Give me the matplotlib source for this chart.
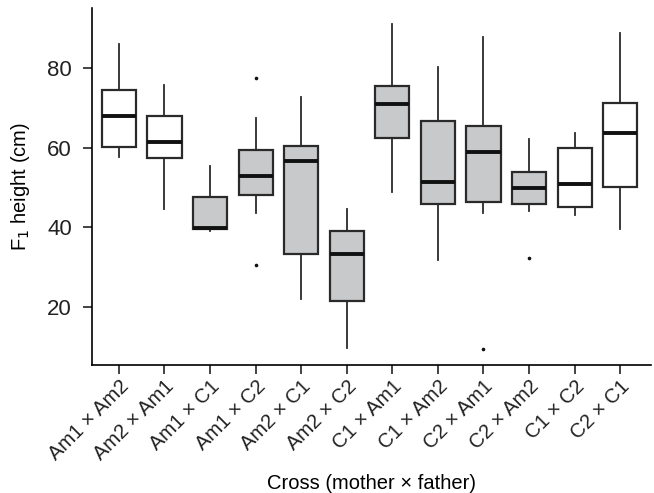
import matplotlib
matplotlib.use('Agg')
import matplotlib.pyplot as plt

plt.rcParams['font.family'] = ['Liberation Sans', 'DejaVu Sans']

crosses = ['Am1 × Am2', 'Am2 × Am1', 'Am1 × C1', 'Am1 × C2', 'Am2 × C1', 'Am2 × C2',
           'C1 × Am1', 'C1 × Am2', 'C2 × Am1', 'C2 × Am2', 'C1 × C2', 'C2 × C1']
whislo = [57.6, 44.5, 39.0, 43.5, 22.0, 9.6, 48.9, 31.9, 43.5, 44.1, 43.0, 39.5]
q1 = [60.2, 57.3, 39.5, 48.1, 33.4, 21.5, 62.5, 45.9, 46.4, 45.9, 45.2, 50.2]
med = [67.9, 61.4, 39.8, 52.9, 56.7, 33.4, 71.0, 51.4, 58.9, 49.9, 50.9, 63.7]
q3 = [74.6, 67.9, 47.7, 59.4, 60.4, 39.2, 75.4, 66.7, 65.5, 53.9, 60.0, 71.3]
whishi = [86.0, 75.8, 55.4, 67.4, 72.8, 44.7, 91.0, 80.4, 87.9, 62.3, 63.8, 88.9]
fliers = [[], [], [], [77.4, 30.5], [], [], [], [], [9.4], [32.4], [], []]
shaded = [False, False, True, True, True, True, True, True, True, True, False, False]

stats = []
for i in range(len(crosses)):
    stats.append(dict(label=crosses[i], whislo=whislo[i], q1=q1[i], med=med[i],
                      q3=q3[i], whishi=whishi[i], fliers=fliers[i]))

fig = plt.figure(figsize=(6.54, 4.93), dpi=100)
ax = fig.add_axes([0.1407, 0.2596, 0.855, 0.7241])

pos = list(range(1, len(crosses) + 1))
bp = ax.bxp(stats, positions=pos, widths=0.75, patch_artist=True, showcaps=False,
            boxprops=dict(edgecolor='#2a2a2a', linewidth=1.6),
            medianprops=dict(color='#111111', linewidth=2.8),
            whiskerprops=dict(color='#2a2a2a', linewidth=1.3),
            flierprops=dict(marker='o', markersize=1.6, markerfacecolor='#111111',
                            markeredgecolor='#111111'))
for box, s in zip(bp['boxes'], shaded):
    box.set_facecolor('#c8c9ca' if s else 'white')

ax.set_ylim(5.4, 95.1)
ax.set_xlim(0.41, 12.68)
ax.set_yticks([20, 40, 60, 80])
ax.spines['top'].set_visible(False)
ax.spines['right'].set_visible(False)
ax.spines['left'].set_linewidth(1.2)
ax.spines['bottom'].set_linewidth(1.2)
ax.tick_params(direction='out', length=6.5, width=1.2, labelsize=14.5, colors='#222222')
ax.tick_params(axis='x', pad=2)
ax.tick_params(axis='y', labelsize=16, pad=8)
plt.setp(ax.get_xticklabels(), rotation=45, ha='right', rotation_mode='anchor')
ax.set_ylabel('F$_1$ height (cm)', fontsize=14.5)
ax.set_xlabel('Cross (mother × father)', fontsize=14.5)
ax.yaxis.set_label_coords(-0.107, 0.5)
ax.xaxis.set_label_coords(0.5, -0.305)

fig.savefig('out.png', dpi=100)
